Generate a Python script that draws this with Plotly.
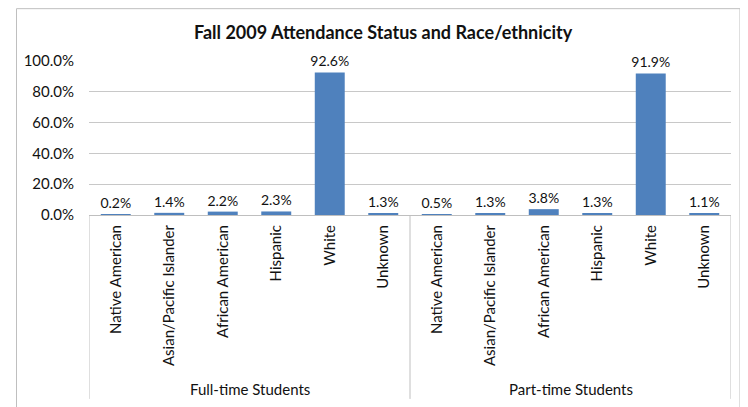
import plotly.graph_objects as go

title = "Fall 2009 Attendance Status and Race/ethnicity"
groups = ["Full-time Students", "Part-time Students"]
categories = ["Native American", "Asian/Pacific Islander", "African American",
              "Hispanic", "White", "Unknown"]
full_time = [0.002, 0.014, 0.022, 0.023, 0.926, 0.013]
part_time = [0.005, 0.013, 0.038, 0.013, 0.919, 0.011]
y_ticks = [0, 0.2, 0.4, 0.6, 0.8, 1.0]

values = full_time + part_time
labels = categories + categories
xpos = list(range(len(values)))

FONT = "Lato"
TXT = "#111111"
OFF = 8  # page body margin
W, H = 748 - OFF, 407 - OFF
ML = 89 - OFF
MT = 61 - OFF
MR = W - (731 - OFF)
MB = H - (215.5 - OFF)
pw = W - ML - MR
ph = H - MT - MB

def px_x(px):
    return (px - OFF - ML) / pw

def px_y(py):
    return (H - MB - (py - OFF)) / ph

fig = go.Figure(go.Bar(
    x=xpos, y=values,
    marker=dict(color="#4F81BD", line=dict(width=0)),
    width=0.56,
    texttemplate="%{y:.1%}", textposition="outside",
    textfont=dict(family=FONT, size=14, color=TXT),
    constraintext="none",
    cliponaxis=False,
))

n = len(categories)
shapes = []
for b in [-0.5, n - 0.5, 2 * n - 0.5]:
    shapes.append(dict(type="line", xref="x", yref="paper", x0=b, x1=b,
                       y0=0, y1=px_y(400), line=dict(color="#BFBFBF", width=1)))
# outer chart border
shapes.append(dict(type="rect", xref="paper", yref="paper",
                   x0=px_x(16.5), x1=px_x(740), y0=px_y(420), y1=px_y(8.5),
                   line=dict(color="#BFBFBF", width=1), layer="below"))

annotations = []
for gi, g in enumerate(groups):
    annotations.append(dict(x=gi * n + (n - 1) / 2, xref="x", y=px_y(390), yref="paper",
                            text=g, showarrow=False, yanchor="middle",
                            font=dict(family=FONT, size=15, color=TXT)))
annotations.append(dict(x=px_x(383), xref="paper", y=px_y(32), yref="paper",
                        text="<b>" + title + "</b>", showarrow=False,
                        xanchor="center", yanchor="middle",
                        font=dict(family=FONT, size=18, color=TXT)))

fig.update_layout(
    width=W, height=H,
    margin=dict(l=ML, r=MR, t=MT, b=MB, pad=0),
    paper_bgcolor="white", plot_bgcolor="white",
    showlegend=False,
    shapes=shapes, annotations=annotations,
    xaxis=dict(tickmode="array", tickvals=xpos, ticktext=labels,
               tickangle=-90, range=[-0.5, 2 * n - 0.5],
               tickfont=dict(family=FONT, size=15, color=TXT),
               showgrid=False, zeroline=False, showline=False,
               ticks="", ticklabelstandoff=6, automargin=False),
    yaxis=dict(range=[0, 1], tickvals=y_ticks, tickformat=".1%",
               tickfont=dict(family=FONT, size=15, color=TXT),
               showgrid=True, gridcolor="#C8C8C8", gridwidth=1,
               zeroline=True, zerolinecolor="#BFBFBF", zerolinewidth=1,
               showline=False, ticks="", ticklabelstandoff=14, automargin=False),
)

fig.write_html("out.html")
